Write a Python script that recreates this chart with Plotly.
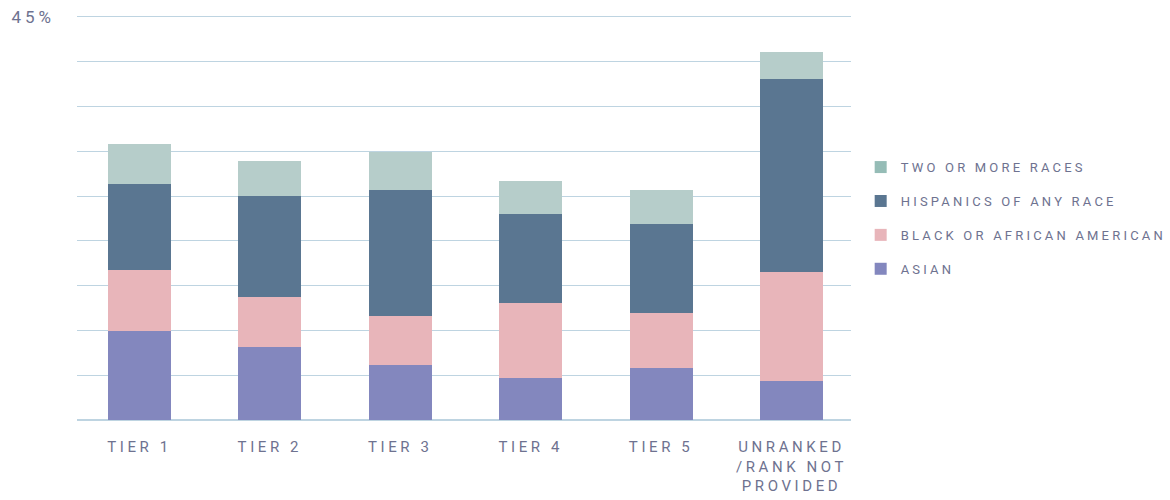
import plotly.graph_objects as go

TIERS = ["TIER 1", "TIER 2", "TIER 3", "TIER 4", "TIER 5", "UNRANKED<br>/RANK NOT<br>PROVIDED"]
ASIAN = [9.9, 8.1, 6.1, 4.7, 5.8, 4.4]
BLACK = [6.8, 5.6, 5.5, 8.4, 6.1, 12.1]
HISPANIC = [9.7, 11.3, 14.1, 9.9, 10.0, 21.6]
TWO_OR_MORE = [4.4, 3.9, 4.2, 3.7, 3.8, 3.0]

Y_TICKS = [0, 5, 10, 15, 20, 25, 30, 35, 40, 45]
Y_TICK_TEXT = ["", "", "", "", "", "", "", "", "", "45%"]

FONT = "Roboto, Arial, sans-serif"
TEXT_COLOR = "#6e7290"
GRID_COLOR = "#bed4e1"

series = [
    ("ASIAN", ASIAN, "#8387be", "#8387be", 4),
    ("BLACK OR AFRICAN AMERICAN", BLACK, "#e8b5ba", "#e8b5ba", 3),
    ("HISPANICS OF ANY RACE", HISPANIC, "#5a7691", "#5a7691", 2),
    ("TWO OR MORE RACES", TWO_OR_MORE, "#b6cdca", "#95bcb6", 1),
]

fig = go.Figure()
for name, values, bar_color, legend_color, rank in series:
    fig.add_trace(
        go.Bar(
            x=TIERS,
            y=values,
            name=name,
            marker={"color": bar_color, "line": {"width": 0}},
            showlegend=False,
            hoverinfo="y+name",
        )
    )
# legend swatches (the reference legend uses a slightly different teal)
for name, values, bar_color, legend_color, rank in series:
    fig.add_trace(
        go.Bar(
            x=[TIERS[0]],
            y=[0],
            name=name,
            legendgroup=name,
            legendrank=rank,
            marker={"color": legend_color, "line": {"width": 0}},
            hoverinfo="skip",
        )
    )

fig.update_layout(
    width=1170,
    height=500,
    barmode="stack",
    bargap=0.517,
    plot_bgcolor="white",
    paper_bgcolor="white",
    margin={"l": 77, "r": 319, "t": 8, "b": 80, "autoexpand": False},
    font={"family": FONT, "color": TEXT_COLOR, "size": 15},
    legend={
        "x": 1.0125,
        "y": 0.49,
        "xanchor": "left",
        "yanchor": "middle",
        "traceorder": "grouped",
        "tracegroupgap": 14,
        "font": {"size": 13, "color": TEXT_COLOR},
        "itemwidth": 30,
    },
)
# range runs a little past 45 so that the top gridline is kept
fig.update_yaxes(
    range=[0, 46],
    tickvals=Y_TICKS,
    ticktext=Y_TICK_TEXT,
    showgrid=True,
    gridcolor=GRID_COLOR,
    gridwidth=1,
    zeroline=True,
    zerolinecolor=GRID_COLOR,
    zerolinewidth=1.5,
    ticks="",
    ticklabelstandoff=21,
    tickfont={"size": 17, "color": TEXT_COLOR},
    automargin=False,
    fixedrange=True,
)
# categories sit slightly off-centre against the gridline extent in the reference
fig.update_xaxes(
    range=[-0.479, 5.456],
    showgrid=False,
    showline=False,
    ticks="",
    ticklabelstandoff=16,
    tickfont={"size": 15, "color": TEXT_COLOR},
    automargin=False,
    fixedrange=True,
)

# the reference typography is widely tracked; plotly fonts have no letter-spacing
LETTER_SPACING_JS = """
var s = document.createElement('style');
s.textContent = 'body {margin: 0;}' +
  '.xtick text {letter-spacing: 3.6px;}' +
  '.ytick text {letter-spacing: 4px;}' +
  '.legendtext {letter-spacing: 3.2px;}' +
  '.legend .scrollbox {clip-path: none !important;}';
document.head.appendChild(s);
"""

fig.write_html(
    "out.html",
    post_script=LETTER_SPACING_JS,
    config={"displayModeBar": False},
)
